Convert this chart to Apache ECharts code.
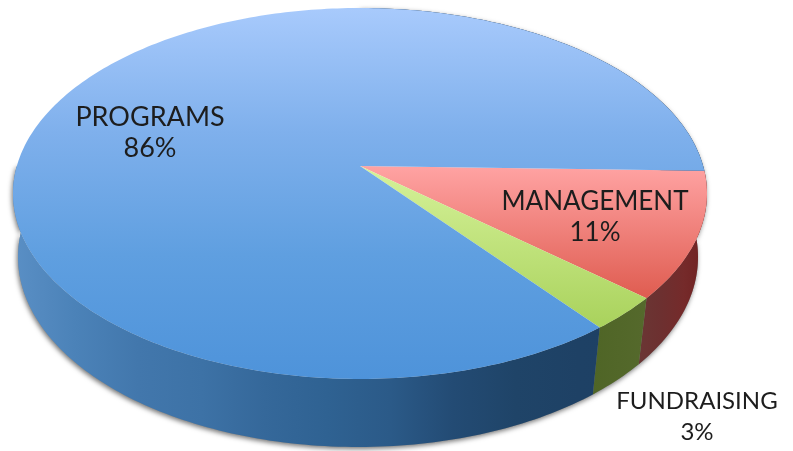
<!DOCTYPE html>
<html>
<head>
<meta charset="utf-8">
<title>Expenses pie</title>
<script src="https://cdn.jsdelivr.net/npm/echarts@6/dist/echarts.min.js"></script>
<style>
  html, body { margin: 0; padding: 0; background: #fff; }
  #main { width: 793px; height: 451px; filter: blur(0.4px); }
</style>
</head>
<body>
<div id="main"></div>
<script>
const categories = ['MANAGEMENT', 'FUNDRAISING', 'PROGRAMS'];
const shares = [11, 3, 86];

// slice colours, one list per use
const topColors = [
  ['#ffa3a3', '#df5c50'],
  ['#d6f29a', '#a9d25c'],
  ['#a8cafc', '#7fb0ec', '#5f9fe0', '#4e93da']
];
const wallColors = [
  ['#6e2020', '#752a2a', '#6d3030', '#6a3634'],
  ['#4f6526', '#55692c'],
  ['#5a8fc5', '#4b82b8', '#4277ac', '#3d72a6', '#35689a', '#2f6292', '#2b5a88', '#234b74', '#1f4468', '#1e4165', '#1e4064', '#1e4064']
];
const labelPos = [[595, 217], [697, 417], [150, 133]];
// no installed font has the original's wide letters, so sizes differ a bit
const labelSizes = [26, 24, 27];

// perspective pie geometry
const apex = { x: 360, y: 166 };
const rim = { x: 360, y: 193.5, rx: 347, ry: 185.5 };
const base = { x: 358, y: 257, rx: 340, ry: 190 };
const startDeg = 1.5;
const tilt = (rim.y - apex.y) / rim.ry;
const rad = Math.PI / 180;

const total = shares.reduce((a, b) => a + b, 0);
const spans = [];
let acc = startDeg;
shares.forEach(function (v) {
  const sweep = v / total * 360;
  spans.push([acc, acc + sweep]);
  acc += sweep;
});

// circle angle -> ellipse parameter, keeps the centre on the apex
function toParam(deg) {
  const s = Math.sin(deg * rad);
  const c = Math.cos(deg * rad);
  const k = 1 - tilt * s;
  return { sin: (s - tilt) / k, cos: c * Math.sqrt(1 - tilt * tilt) / k };
}
function onEllipse(e, p) {
  return [e.x + e.rx * p.cos, e.y + e.ry * p.sin];
}
function sample(span) {
  const out = [];
  const n = Math.ceil(span[1] - span[0]);
  for (let i = 0; i <= n; i++) {
    out.push(toParam(span[0] + (span[1] - span[0]) * i / n));
  }
  return out;
}
function wallPoints(span) {
  // only the near side of the wall can be seen
  const ps = sample(span).filter(function (p) {
    return p.sin > -0.15 || p.cos > 0;
  }).filter(function (p) {
    return !(p.cos < 0 && p.sin < -0.2);
  });
  const up = ps.map(function (p) { return onEllipse(rim, p); });
  const down = ps.map(function (p) { return onEllipse(base, p); }).reverse();
  return up.concat(down);
}
function ramp(colors, x0, y0, x1, y1) {
  return new echarts.graphic.LinearGradient(x0, y0, x1, y1, colors.map(function (c, i) {
    return { offset: i / (colors.length - 1), color: c };
  }));
}

const chart = echarts.init(document.getElementById('main'));
const rows = shares.map(function (v, i) { return { name: categories[i], value: v }; });

chart.setOption({
  backgroundColor: '#fff',
  animation: false,
  series: [
    {
      // soft shadow under the wall
      type: 'custom',
      coordinateSystem: 'none',
      silent: true,
      z: 1,
      data: rows,
      renderItem: function (params) {
        return {
          type: 'polygon',
          shape: { points: wallPoints(spans[params.dataIndex]) },
          style: {
            fill: '#888',
            shadowBlur: 5,
            shadowOffsetX: -1,
            shadowOffsetY: 2,
            shadowColor: 'rgba(0,0,0,0.55)'
          }
        };
      }
    },
    {
      type: 'custom',
      coordinateSystem: 'none',
      silent: true,
      z: 2,
      data: rows,
      renderItem: function (params) {
        const i = params.dataIndex;
        // programs wall darkens left to right, the others are short
        return {
          type: 'polygon',
          shape: { points: wallPoints(spans[i]) },
          style: { fill: i === 0 ? ramp(wallColors[i].slice().reverse(), 0, 0, 1, 0) : ramp(wallColors[i], 0, 0, 1, 0) }
        };
      }
    },
    {
      type: 'custom',
      coordinateSystem: 'none',
      silent: true,
      z: 3,
      data: rows,
      renderItem: function (params) {
        const i = params.dataIndex;
        const arc = sample(spans[i]).map(function (p) { return onEllipse(rim, p); });
        return {
          type: 'polygon',
          shape: { points: [[apex.x, apex.y]].concat(arc) },
          style: { fill: ramp(topColors[i], 0, 0, 0, 1) }
        };
      }
    },
    {
      type: 'custom',
      coordinateSystem: 'none',
      silent: true,
      z: 4,
      data: rows,
      renderItem: function (params, api) {
        const i = params.dataIndex;
        return {
          type: 'text',
          x: labelPos[i][0],
          y: labelPos[i][1],
          style: {
            text: categories[i] + '\n' + api.value(0) + '%',
            font: labelSizes[i] + 'px Lato',
            lineHeight: 31,
            fill: '#1d1d1d',
            align: 'center',
            verticalAlign: 'middle'
          }
        };
      }
    }
  ]
});
</script>
</body>
</html>
